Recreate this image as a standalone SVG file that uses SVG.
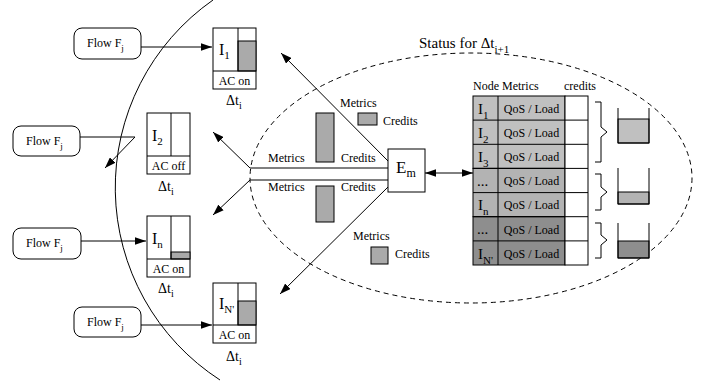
<svg xmlns="http://www.w3.org/2000/svg" width="709" height="388" viewBox="0 0 709 388">
<style>
text{font-family:"Liberation Serif","Times New Roman",serif;fill:#000}
.t12{font-size:12px}
.t15{font-size:15px}
.big{font-size:16px}
.dt{font-size:14px}
.box{fill:#fff;stroke:#000;stroke-width:1}
.ln{fill:none;stroke:#000;stroke-width:1}
.g{fill:#aaa;stroke:#000;stroke-width:1}
.arr{fill:none;stroke:#000;stroke-width:1;marker-end:url(#ah)}
</style>
<defs>
<marker id="ah" markerUnits="userSpaceOnUse" markerWidth="11" markerHeight="8" refX="10" refY="3.5" orient="auto-start-reverse" viewBox="0 0 10 7">
<path d="M0,0 L10,3.5 L0,7 Z" fill="#000"/>
</marker>
</defs>
<rect width="709" height="388" fill="#fff"/>

<!-- boundary arc and status region -->
<path d="M213,0 A229,229 0 0 0 220,380" class="ln"/>
<ellipse cx="471" cy="178" rx="221" ry="125" fill="none" stroke="#000" stroke-width="1" stroke-dasharray="5 4"/>
<text class="t15" x="419" y="48">Status for Δt<tspan font-size="11" dy="5">i+1</tspan></text>

<!-- flows -->
<g id="flow1"><rect class="box" x="74" y="28" width="67" height="31" rx="8"/><text class="t12" x="87" y="47">Flow F<tspan font-size="9" dy="4">j</tspan></text></g>
<g id="flow2"><rect class="box" x="13" y="126" width="67" height="30" rx="8"/><text class="t12" x="26" y="145">Flow F<tspan font-size="9" dy="4">j</tspan></text></g>
<g id="flow3"><rect class="box" x="13" y="228" width="68" height="31" rx="8"/><text class="t12" x="26" y="247">Flow F<tspan font-size="9" dy="4">j</tspan></text></g>
<g id="flow4"><rect class="box" x="74" y="307" width="67" height="30" rx="8"/><text class="t12" x="87" y="326">Flow F<tspan font-size="9" dy="4">j</tspan></text></g>

<!-- ingress nodes -->
<g id="I1">
<rect class="box" x="213" y="28" width="43" height="61"/>
<rect class="g" x="238" y="41" width="18" height="30"/>
<path class="ln" d="M238,28 V71 M213,71 H256"/>
<text class="big" x="219" y="55">I<tspan font-size="11" dy="4">1</tspan></text>
<text class="t12" x="234.5" y="85" text-anchor="middle">AC on</text>
<text class="dt" x="226" y="105">Δt<tspan font-size="10" dy="4">i</tspan></text>
</g>
<g id="I2">
<rect class="box" x="147" y="113" width="43" height="61"/>
<path class="ln" d="M171,113 V156 M147,156 H190"/>
<text class="big" x="152" y="141">I<tspan font-size="11" dy="4">2</tspan></text>
<text class="t12" x="168.5" y="170" text-anchor="middle">AC off</text>
<text class="dt" x="158" y="191">Δt<tspan font-size="10" dy="4">i</tspan></text>
</g>
<g id="In">
<rect class="box" x="147" y="216" width="43" height="61"/>
<rect class="g" x="171" y="252" width="19" height="7"/>
<path class="ln" d="M171,216 V259 M147,259 H190"/>
<text class="big" x="152" y="244">I<tspan font-size="11" dy="4">n</tspan></text>
<text class="t12" x="168.5" y="273" text-anchor="middle">AC on</text>
<text class="dt" x="158" y="293">Δt<tspan font-size="10" dy="4">i</tspan></text>
</g>
<g id="IN">
<rect class="box" x="213" y="283" width="43" height="60"/>
<rect class="g" x="238" y="301" width="18" height="24"/>
<path class="ln" d="M238,283 V325 M213,325 H256"/>
<text class="big" x="219" y="309">I<tspan font-size="11" dy="4">N'</tspan></text>
<text class="t12" x="234.5" y="339" text-anchor="middle">AC on</text>
<text class="dt" x="226" y="361">Δt<tspan font-size="10" dy="4">i</tspan></text>
</g>

<!-- manager -->
<g id="Em">
<rect class="box" x="388" y="149" width="37" height="43"/>
<text x="396" y="173" font-size="17">E<tspan font-size="12" dy="4">m</tspan></text>
</g>

<!-- metrics / credits labels -->
<g id="mc-labels">
<text class="t12" x="340" y="107">Metrics</text>
<rect class="g" x="358" y="113" width="19" height="12"/>
<text class="t12" x="383" y="125">Credits</text>
<rect class="g" x="316" y="113" width="18" height="49"/>
<text class="t12" x="268" y="162">Metrics</text>
<text class="t12" x="341" y="162">Credits</text>
<text class="t12" x="268" y="191">Metrics</text>
<text class="t12" x="341" y="191">Credits</text>
<rect class="g" x="316" y="186" width="18" height="36"/>
<text class="t12" x="353" y="240">Metrics</text>
<rect class="g" x="371" y="247" width="17" height="17"/>
<text class="t12" x="395" y="258">Credits</text>
</g>

<!-- status table -->
<g id="table">
<text class="t12" x="473" y="90">Node</text>
<text class="t12" x="502" y="90">Metrics</text>
<text class="t12" x="564" y="90">credits</text>
<g stroke="#000" stroke-width="1">
<rect x="473" y="96" width="92" height="72.4" fill="#c0c0c0"/>
<rect x="473" y="168.4" width="92" height="48.3" fill="#b3b3b3"/>
<rect x="473" y="216.7" width="92" height="48.3" fill="#8e8e8e"/>
<rect x="565" y="96" width="23" height="169" fill="#fff"/>
<path fill="none" d="M473,120.1 H588 M473,144.3 H588 M473,168.4 H588 M473,192.6 H588 M473,216.7 H588 M473,240.9 H588 M498,96 V265"/>
</g>
<g class="rows">
<text class="t15" x="478" y="114">I<tspan font-size="11" dy="5">1</tspan></text>
<text class="t15" x="478" y="138">I<tspan font-size="11" dy="5">2</tspan></text>
<text class="t15" x="478" y="162">I<tspan font-size="11" dy="5">3</tspan></text>
<text class="t15" x="477" y="186">...</text>
<text class="t15" x="478" y="210">I<tspan font-size="11" dy="5">n</tspan></text>
<text class="t15" x="477" y="234">...</text>
<text class="t15" x="478" y="259">I<tspan font-size="11" dy="5">N'</tspan></text>
<text class="t12" x="531.5" y="113" text-anchor="middle">QoS / Load</text>
<text class="t12" x="531.5" y="137" text-anchor="middle">QoS / Load</text>
<text class="t12" x="531.5" y="161" text-anchor="middle">QoS / Load</text>
<text class="t12" x="531.5" y="185" text-anchor="middle">QoS / Load</text>
<text class="t12" x="531.5" y="209" text-anchor="middle">QoS / Load</text>
<text class="t12" x="531.5" y="234" text-anchor="middle">QoS / Load</text>
<text class="t12" x="531.5" y="258" text-anchor="middle">QoS / Load</text>
</g>
</g>

<!-- braces and buckets -->
<g id="buckets">
<path class="ln" d="M595,102 H601 V127 L607,132 L601,137 V162 H595"/>
<path class="ln" d="M595,174 H601 V187 L607,192 L601,197 V210 H595"/>
<path class="ln" d="M595,223 H601 V235 L607,240 L601,245 V258 H595"/>
<rect x="618" y="119" width="31" height="24" fill="#c0c0c0" stroke="#000"/>
<rect x="618" y="192" width="31" height="12" fill="#b3b3b3" stroke="#000"/>
<rect x="618" y="241" width="31" height="17" fill="#8e8e8e" stroke="#000"/>
<path class="ln" d="M618,108 V143 H649 V108"/>
<path class="ln" d="M618,168 V204 H649 V168"/>
<path class="ln" d="M618,223 V258 H649 V223"/>
</g>

<!-- connectors -->
<g id="connectors">
<path class="arr" d="M141,47 H212"/>
<path class="arr" d="M80,137 H135 L105,168"/>
<path class="arr" d="M81,241 H146"/>
<path class="arr" d="M141,325 H212"/>
<path class="arr" d="M388,161 L281,53"/>
<path class="arr" d="M388,168 H250 L213,132"/>
<path class="arr" d="M388,180 H250 L213,215"/>
<path class="arr" d="M388,187 L280,294"/>
<path class="arr" d="M425,173 H473" style="marker-start:url(#ah)"/>
</g>
</svg>
